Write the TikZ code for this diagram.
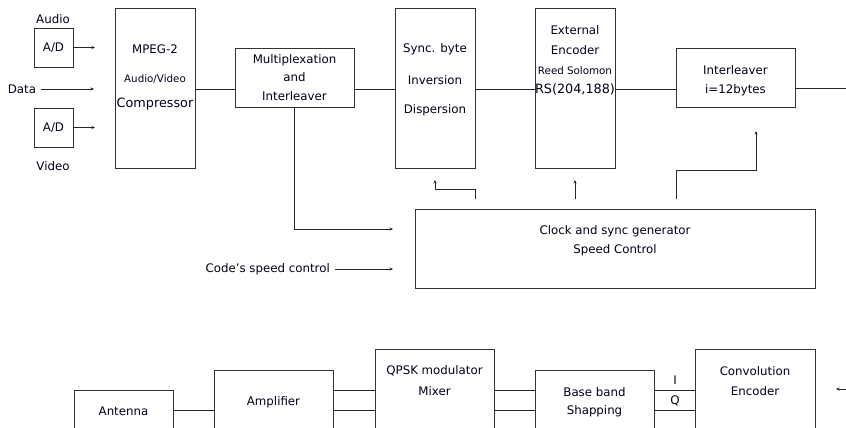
\documentclass[tikz,border=0pt]{standalone}
\usepackage{fontspec}
\setmainfont{DejaVu Sans}
\usetikzlibrary{arrows.meta,calc}
\begin{document}
\begin{tikzpicture}[x=1pt,y=-1pt,
  box/.style={draw=black!80,line width=0.8pt,inner sep=0pt,outer sep=0pt},
  ln/.style={draw=black!85,line width=0.8pt},
  arr/.style={ln,-{Stealth[length=3.5pt,width=3pt]}},
  txt/.style={inner sep=0pt,text=black!90!blue,font=\fontsize{11.8}{13}\selectfont},
  sml/.style={txt,font=\fontsize{10.3}{11}\selectfont},
  big/.style={txt,font=\fontsize{12.8}{14}\selectfont}]
\useasboundingbox (0,0) rectangle (846,428);
\clip (0,0) rectangle (846,428);
% boxes
\node[box,minimum width=39pt,minimum height=39pt] (adA) at (53.5,47.5) {};
\node[box,minimum width=39pt,minimum height=39pt] (adV) at (53.5,127.5) {};
\node[box,minimum width=80pt,minimum height=160pt] (mpeg) at (155,88) {};
\node[box,minimum width=119pt,minimum height=59pt] (mux) at (294.5,77.5) {};
\node[box,minimum width=80pt,minimum height=160pt] (sync) at (435,88) {};
\node[box,minimum width=80pt,minimum height=160pt] (ext) at (575,88) {};
\node[box,minimum width=119pt,minimum height=59pt] (inter) at (735.5,77.5) {};
\node[box,minimum width=400pt,minimum height=79pt] (clock) at (615,248.5) {};
\node[box,minimum width=99pt,minimum height=60pt] (ant) at (123.5,420) {};
\node[box,minimum width=119pt,minimum height=80pt] (amp) at (273.5,410) {};
\node[box,minimum width=119pt,minimum height=101pt] (qpsk) at (434.5,399.5) {};
\node[box,minimum width=119pt,minimum height=80pt] (bb) at (594.5,410) {};
\node[box,minimum width=120pt,minimum height=101pt] (conv) at (755,399.5) {};
% texts
\node[txt] (tAudio) at (53,19) {Audio};
\node[txt] (tVideo) at (53,166) {Video};
\node[txt] at (adA.center) {A/D};
\node[txt] at (adV.center) {A/D};
\node[txt] (data) at (22,89) {Data};
\node[txt] at (155,49) {MPEG-2};
\node[sml] at (155,79) {Audio/Video};
\node[big] at (155,104) {Compressor};
\node[txt] at (294.5,60) {Multiplexation};
\node[txt] at (294.5,77) {and};
\node[txt] at (294.5,96) {Interleaver};
\node[txt] at (435,49) {Sync. byte};
\node[txt] at (435,80) {Inversion};
\node[txt] at (435,110) {Dispersion};
\node[txt] at (575,30) {External};
\node[txt] at (575,50) {Encoder};
\node[sml] at (575,71) {Reed Solomon};
\node[big] at (575,89) {RS(204,188)};
\node[txt] at (735.5,70) {Interleaver};
\node[txt] at (735.5,90) {i=12bytes};
\node[txt] at (615,231) {Clock and sync generator};
\node[txt] at (615,250) {Speed Control};
\node[txt,anchor=east] (code) at (330,269) {Code{\char"27}s speed control};
\node[txt] at (123.5,411) {Antenna};
\node[txt] at (273.5,402) {Amplifier};
\node[txt] at (434.5,371) {QPSK modulator};
\node[txt] at (434.5,391) {Mixer};
\node[txt] at (594.5,392) {Base band};
\node[txt] at (594.5,411) {Shapping};
\node[txt] at (675,380) {I};
\node[txt] at (675,401) {Q};
\node[txt] at (755,371) {Convolution};
\node[txt] at (755,391) {Encoder};
% helper coordinates
\coordinate (mainY) at (0,89);
\coordinate (outR) at (846,88);
\coordinate (fbA) at (0,199);
\coordinate (fbB) at (0,189);
\coordinate (fbC) at (0,170);
\coordinate (r1) at (0,390);
\coordinate (r2) at (0,410);
\coordinate (inR) at (846,389);
% input arrows
\draw[arr] (adA.east) -- ([xshift=-20pt]mpeg.west |- adA.east);
\draw[arr] ([xshift=5pt]data.east) -- ([xshift=-21pt]mpeg.west |- data.east);
\draw[arr] (adV.east) -- ([xshift=-20pt]mpeg.west |- adV.east);
% main chain
\draw[ln] (mpeg.east |- mainY) -- (mux.west |- mainY);
\draw[ln] (mux.east |- mainY) -- (sync.west |- mainY);
\draw[ln] (sync.east |- mainY) -- (ext.west |- mainY);
\draw[ln] (ext.east |- mainY) -- (inter.west |- mainY);
\draw[ln] (inter.east |- outR) -- (outR);
% control lines
\draw[arr] (mux.south) |- ([xshift=-22pt,yshift=-20pt]clock.north west);
\draw[arr] ([xshift=5pt]code.east) -- ([xshift=-22pt]clock.west |- code.east);
\draw[arr] (sync.east |- fbA) -- (sync.east |- fbB) -| ([yshift=-12pt]sync.south);
\draw[arr] (ext.south |- fbA) -- ([yshift=-12pt]ext.south);
\draw[arr] (inter.west |- fbA) -- (inter.west |- fbC) -| ([xshift=20.5pt,yshift=-24pt]inter.south);
% bottom chain
\draw[ln] (ant.east |- r2) -- (amp.west |- r2);
\draw[ln] (amp.east |- r1) -- (qpsk.west |- r1);
\draw[ln] (amp.east |- r2) -- (qpsk.west |- r2);
\draw[ln] (qpsk.east |- r1) -- (bb.west |- r1);
\draw[ln] (qpsk.east |- r2) -- (bb.west |- r2);
\draw[ln] (bb.east |- r1) -- (conv.west |- r1);
\draw[ln] (bb.east |- r2) -- (conv.west |- r2);
\draw[arr] (inR) -- ([xshift=-10pt]inR);
\end{tikzpicture}
\end{document}
